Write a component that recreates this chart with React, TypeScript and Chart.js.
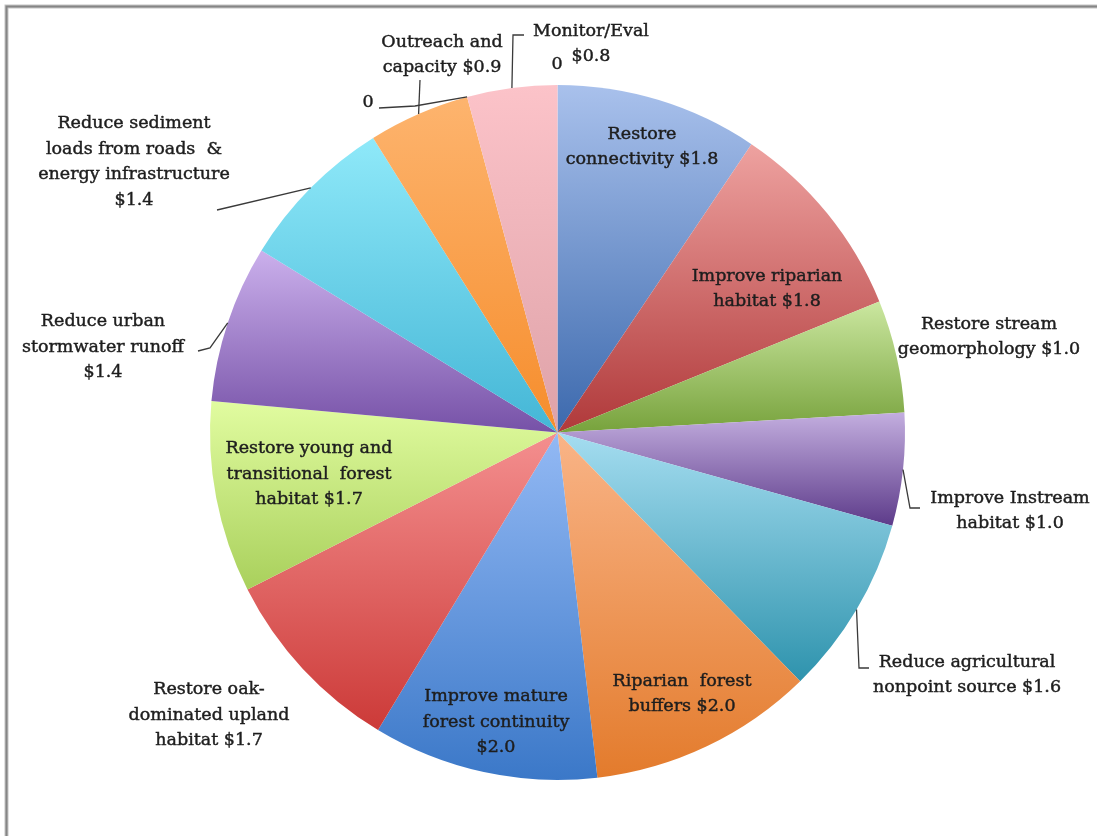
import React, { useEffect, useRef } from 'react';
import { Chart, registerables } from 'chart.js';

Chart.register(...registerables);

// ---- data ----
const categories = [
  'Restore connectivity',
  'Improve riparian habitat',
  'Restore stream geomorphology',
  'Improve Instream habitat',
  'Reduce agricultural nonpoint source',
  'Riparian forest buffers',
  'Improve mature forest continuity',
  'Restore oak-dominated upland habitat',
  'Restore young and transitional forest habitat',
  'Reduce urban stormwater runoff',
  'Reduce sediment loads from roads & energy infrastructure',
  'Outreach and capacity',
  '',
  'Monitor/Eval',
  '',
];
const values = [1.8, 1.8, 1.0, 1.0, 1.6, 2.0, 2.0, 1.7, 1.7, 1.4, 1.4, 0.9, 0, 0.8, 0];

// ---- styles ----
const lightColors = [
  '#a9c1ec', '#eea2a0', '#cbe7a0', '#c3aedf', '#a5ddf0', '#f9b487', '#93b9f4',
  '#f48f8f', '#e1fca0', '#cbb0ec', '#8fe9f9', '#fdb46e', '#cccccc', '#fcc3c9', '#cccccc',
];
const darkColors = [
  '#3c69ad', '#b0393a', '#77a23c', '#5d3b8a', '#2e93ad', '#e37b2c', '#3b78c8',
  '#cc3a38', '#a9d05c', '#7651a7', '#44b6d6', '#f68d2c', '#999999', '#dea2a8', '#999999',
];

// label text layout (pixel placement of annotations, not of marks)
type Layout = { lines: string[]; x: number; y: number; leader?: number[][] };
const labelLayout: Layout[] = [
  { lines: ['Restore', 'connectivity {v}'], x: 642, y: 147 },
  { lines: ['Improve riparian', 'habitat {v}'], x: 767, y: 289 },
  { lines: ['Restore stream', 'geomorphology {v}'], x: 989, y: 337 },
  { lines: ['Improve Instream', 'habitat {v}'], x: 1010, y: 511, leader: [[910, 508], [920, 508]] },
  { lines: ['Reduce agricultural', 'nonpoint source {v}'], x: 967, y: 675, leader: [[859, 668], [869, 668]] },
  { lines: ['Riparian  forest', 'buffers {v}'], x: 682, y: 694 },
  { lines: ['Improve mature', 'forest continuity', '{v}'], x: 496, y: 722 },
  { lines: ['Restore oak-', 'dominated upland', 'habitat {v}'], x: 209, y: 715 },
  { lines: ['Restore young and', 'transitional  forest', 'habitat {v}'], x: 309, y: 474 },
  { lines: ['Reduce urban', 'stormwater runoff', '{v}'], x: 103, y: 347, leader: [[210, 348], [198, 351]] },
  { lines: ['Reduce sediment', 'loads from roads  &', 'energy infrastructure', '{v}'], x: 134, y: 162, leader: [[217, 210]] },
  { lines: ['Outreach and', 'capacity {v}'], x: 442, y: 55, leader: [[420, 80]] },
  { lines: ['{v}'], x: 368, y: 102, leader: [[415, 106], [379, 108]] },
  { lines: ['Monitor/Eval', '{v}'], x: 591, y: 44, leader: [[513, 35], [524, 35]] },
  { lines: ['{v}'], x: 557, y: 64 },
];

const FONT = '17.5px "DejaVu Serif"';
const LINE_H = 25.5;

function arcGradient(ctx: CanvasRenderingContext2D, el: any, i: number) {
  const { x, y, startAngle, endAngle, outerRadius } = el;
  let minY = y;
  let maxY = y;
  const steps = 90;
  for (let k = 0; k <= steps; k++) {
    const a = startAngle + ((endAngle - startAngle) * k) / steps;
    const py = y + Math.sin(a) * outerRadius;
    if (py < minY) minY = py;
    if (py > maxY) maxY = py;
  }
  if (maxY - minY < 1) maxY = minY + 1;
  const g = ctx.createLinearGradient(0, minY, 0, maxY);
  g.addColorStop(0, lightColors[i]);
  g.addColorStop(1, darkColors[i]);
  return g;
}

const framePlugin = {
  id: 'frame',
  beforeDraw(chart: any) {
    const c = chart.ctx;
    c.save();
    c.fillStyle = '#ffffff';
    c.fillRect(0, 0, chart.width, chart.height);
    c.strokeStyle = '#c4c4c4';
    c.lineWidth = 4;
    c.strokeRect(6.5, 6.5, chart.width + 40, chart.height + 40);
    c.strokeStyle = '#858585';
    c.lineWidth = 2;
    c.strokeRect(6.5, 6.5, chart.width + 40, chart.height + 40);
    c.restore();
  },
};

const labelPlugin = {
  id: 'pieLabels',
  afterDatasetsDraw(chart: any) {
    const c: CanvasRenderingContext2D = chart.ctx;
    const meta = chart.getDatasetMeta(0);
    c.save();
    c.font = FONT;
    c.textAlign = 'center';
    c.textBaseline = 'middle';
    labelLayout.forEach((lay, i) => {
      const el = meta.data[i] as any;
      const v = values[i];
      const vText = v === 0 ? '0' : '$' + v.toFixed(1);
      if (lay.leader && el) {
        const mid = (el.startAngle + el.endAngle) / 2;
        const ax = el.x + Math.cos(mid) * el.outerRadius;
        const ay = el.y + Math.sin(mid) * el.outerRadius;
        c.beginPath();
        c.strokeStyle = '#3a3a3a';
        c.lineWidth = 1.3;
        c.moveTo(ax, ay);
        lay.leader.forEach((p) => c.lineTo(p[0], p[1]));
        c.stroke();
      }
      const n = lay.lines.length;
      c.fillStyle = '#1e1e1e';
      c.strokeStyle = '#1e1e1e';
      c.lineWidth = 0.45;
      lay.lines.forEach((ln, j) => {
        const t = ln.replace('{v}', vText);
        const ty = lay.y + (j - (n - 1) / 2) * LINE_H;
        c.fillText(t, lay.x, ty);
        c.strokeText(t, lay.x, ty);
      });
    });
    c.restore();
  },
};

export default function App() {
  const ref = useRef<HTMLCanvasElement | null>(null);
  useEffect(() => {
    document.body.style.margin = '0';
    if (!ref.current) return;
    const chart = new Chart(ref.current, {
      type: 'pie',
      data: {
        labels: categories,
        datasets: [
          {
            data: values,
            borderWidth: 0,
            backgroundColor: (ctx: any) => {
              const el = ctx.element;
              const i = ctx.dataIndex;
              if (!el || el.outerRadius === undefined || !isFinite(el.outerRadius)) return lightColors[i];
              return arcGradient(ctx.chart.ctx, el, i);
            },
          },
        ],
      },
      options: {
        responsive: false,
        animation: false,
        layout: { padding: { left: 210, right: 192, top: 85, bottom: 56 } },
        plugins: {
          legend: { display: false },
          tooltip: { enabled: false },
        },
        events: [],
      },
      plugins: [framePlugin, labelPlugin],
    });
    chart.update();
    return () => chart.destroy();
  }, []);
  return (
    <div style={{ width: 1097, height: 836, position: 'relative' }}>
      <canvas ref={ref} width={1097} height={836} style={{ display: 'block' }} />
    </div>
  );
}
